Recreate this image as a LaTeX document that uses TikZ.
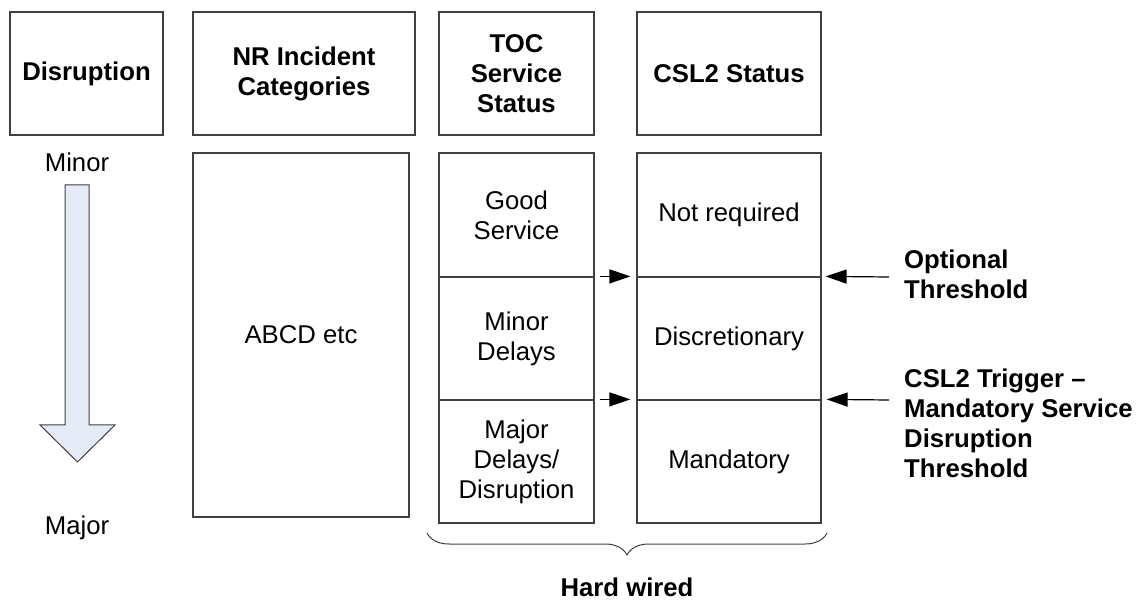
\documentclass[tikz,border=0pt]{standalone}
\usepackage{fontspec}
\setmainfont{Liberation Sans}
\usetikzlibrary{arrows.meta,decorations.pathreplacing}
\definecolor{linegray}{HTML}{404040}
\definecolor{arrowfill}{HTML}{E4EBF6}
\tikzset{
  cell/.style={draw=linegray, line width=1.2pt, inner sep=0pt, align=center,
    font=\fontsize{25.7}{30}\selectfont},
  headcell/.style={cell, minimum height=123pt, font=\bfseries\fontsize{25.7}{30}\selectfont},
  plain/.style={inner sep=0pt, font=\fontsize{25.7}{30}\selectfont},
  note/.style={inner sep=0pt, align=left, font=\bfseries\fontsize{25.7}{30}\selectfont},
  link/.style={line width=1.2pt, -{Triangle[length=21pt,width=14pt]}},
}
\begin{document}
\begin{tikzpicture}[x=1pt,y=-1pt]
\useasboundingbox (0,0) rectangle (1144,601);

% column headers
\node[headcell, minimum width=153pt] (hdis) at (86.5,73.5) {Disruption};
\node[headcell, minimum width=222pt] (hnr)  at (304,73.5)  {NR Incident\\Categories};
\node[headcell, minimum width=155pt] (htoc) at (516.5,73.5) {TOC\\Service\\Status};
\node[headcell, minimum width=184pt] (hcsl) at (729,73.5)  {CSL2 Status};

% severity scale
\draw[linegray, line width=1pt, fill=arrowfill]
  (65,185) -- (89,185) -- (89,425) -- (115,425) -- (77.5,462) -- (40,425) -- (65,425) -- cycle;
\node[plain, anchor=base] (minor) at (77,172) {Minor};
\node[plain, anchor=base] (major) at (77,535) {Major};

% incident categories
\node[cell, minimum width=216pt, minimum height=364pt] (abcd) at (301,335) {ABCD etc};

% TOC service status rows
\node[cell, minimum width=155pt, minimum height=124pt] (t1) at (516.5,215)   {Good\\Service};
\node[cell, minimum width=155pt, minimum height=123pt] (t2) at (516.5,338.5) {Minor\\Delays};
\node[cell, minimum width=155pt, minimum height=123pt] (t3) at (516.5,461.5) {Major\\Delays/\\Disruption};

% CSL2 status rows
\node[cell, minimum width=184pt, minimum height=124pt] (c1) at (729,215)   {Not required};
\node[cell, minimum width=184pt, minimum height=123pt] (c2) at (729,338.5) {Discretionary};
\node[cell, minimum width=184pt, minimum height=123pt] (c3) at (729,461.5) {Mandatory};

% status mapping
\draw[link] ([xshift=5pt]t2.north east) -- ([xshift=-6pt]c2.north west);
\draw[link] ([xshift=5pt]t3.north east) -- ([xshift=-6pt]c3.north west);

% thresholds
\coordinate (optend) at (889,277);
\coordinate (trigend) at (889,400);
\draw[link] (optend) -- ([xshift=4pt]c2.north east);
\draw[link] (trigend) -- ([xshift=5pt]c3.north east);
\node[note, anchor=north west] (opt) at (904,250) {Optional\\Threshold};
\node[note, anchor=north west] (trig) at (904,369) {CSL2 Trigger --\\Mandatory Service\\Disruption\\Threshold};

% hard wired brace
\coordinate (bl) at (427,533);
\coordinate (br) at (827,533);
\draw[linegray, line width=1pt, decorate, decoration={brace, mirror, amplitude=22pt}] (bl) -- (br);
\node[note, anchor=base] (hw) at (627,596) {Hard wired};
\end{tikzpicture}
\end{document}
